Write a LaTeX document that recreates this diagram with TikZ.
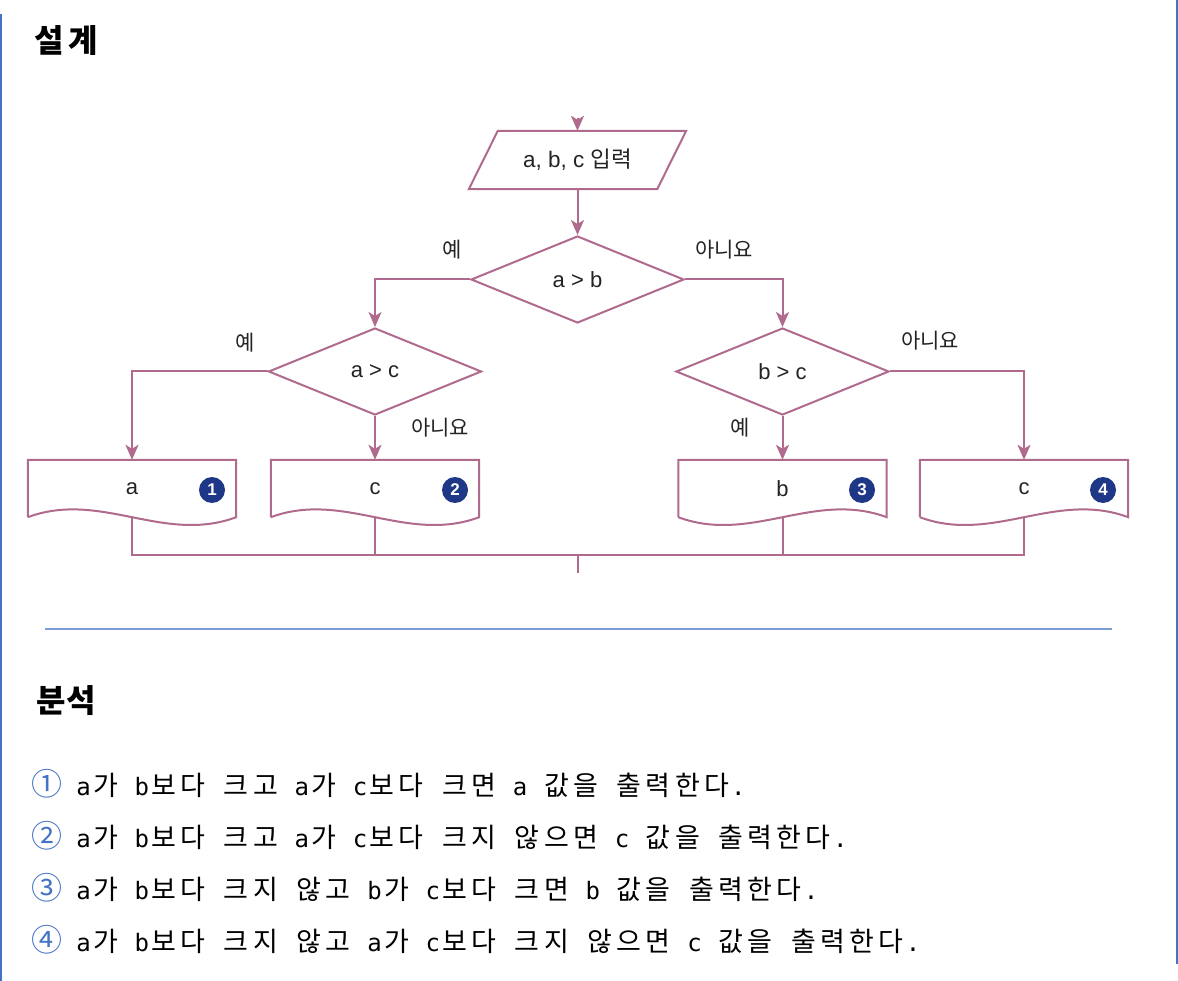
\documentclass[tikz,border=0pt]{standalone}
\usepackage{fontspec}
\usetikzlibrary{arrows.meta,shapes.geometric,calc}
\newfontfamily\kr{Noto Sans CJK KR}
\newfontfamily\lat{Liberation Sans}
\newfontfamily\latmono{DejaVu Sans Mono}
\definecolor{fl}{RGB}{176,106,142}
\definecolor{navy}{RGB}{30,55,135}
\definecolor{bord}{RGB}{68,114,196}
\definecolor{rulec}{RGB}{125,155,212}
\definecolor{txt}{RGB}{35,35,35}
\ExplSyntaxOn
\dim_new:N \g_cellw_dim
\dim_gset:Nn \g_cellw_dim {14.55pt}
\NewDocumentCommand \monoline { m }
  {
    \str_map_inline:nn {#1}
      {
        \str_if_eq:nnTF {##1} {~}
          { \hbox_to_wd:nn {\g_cellw_dim} {} }
          {
            \int_compare:nNnTF { `##1 } > { 255 }
              { \hbox_to_wd:nn {2\g_cellw_dim} { \hfil \kr\fontsize{27}{27}\selectfont ##1 \hfil } }
              { \hbox_to_wd:nn {\g_cellw_dim} { \hfil \latmono\fontsize{24}{24}\selectfont ##1 \hfil } }
          }
      }
  }
\ExplSyntaxOff
\newcommand\docshape[3]{%
  \draw[fline] (#1.south west) -- (#1.north west) -- (#1.north east) -- (#1.south east)
    .. controls ($(#1.south east)+(-72.8,#2)$) and ($(#1.south west)+(72.8,#3)$) .. (#1.south west);}
\newcommand\circnum[1]{{\color{bord}\makebox[29.1pt]{\kr\fontsize{31}{31}\selectfont #1}}}
\begin{document}
\begin{tikzpicture}[x=1pt,y=-1pt,
  fline/.style={draw=fl, line width=2pt},
  farrow/.style={fline, -{Stealth[length=15pt,width=13pt,inset=4pt]}},
  dec/.style={diamond, draw=fl, line width=2pt, minimum width=213pt, minimum height=87pt,
    inner sep=0pt, aspect=2.45, font=\lat\fontsize{22}{22}\selectfont, text=txt},
  lbl/.style={font=\kr\fontsize{21}{21}\selectfont, text=txt, inner sep=0pt},
  outbox/.style={minimum width=208pt, minimum height=57pt, inner sep=0pt,
    font=\lat\fontsize{22}{22}\selectfont, text=txt},
  num/.style={circle, fill=navy, text=white, minimum size=26pt, inner sep=0pt,
    font=\lat\bfseries\fontsize{17}{17}\selectfont},
  title/.style={font=\kr\bfseries\fontsize{32}{32}\selectfont, inner sep=0pt},
  rowtxt/.style={anchor=base west, inner sep=0pt, font=\kr\fontsize{26}{26}\selectfont}
]
\useasboundingbox (0,0) rectangle (1178,981);
\fill[white] (0,0) rectangle (1178,981);
% page borders
\draw[bord, line width=1.5pt] (1,14) -- (1,981);
\draw[bord, line width=1.5pt] (1177,0) -- (1177,964);
% titles
\node[title] (t1) at (66,41) {설\hspace{4pt}계};
\node[title] (t2) at (66,701) {분석};
\draw[rulec, line width=2pt] (45,629) -- (1112,629);

% flowchart
\coordinate (top) at (577.5,118);
\node[minimum width=188pt, minimum height=58pt, inner sep=0pt, text=txt] (inp) at (577.5,160)
  {{\lat\fontsize{22.5}{22.5}\selectfont a, b, c }{\kr\fontsize{22.5}{22.5}\selectfont 입력}};
\draw[fline] ([xshift=14.5pt]inp.north west) -- ([xshift=14.5pt]inp.north east)
  -- ([xshift=-14.5pt]inp.south east) -- ([xshift=-14.5pt]inp.south west) -- cycle;

\node[dec] (ab) at (577.5,279.5) {a > b};
\node[dec] (ac) at (375,371.5) {a > c};
\node[dec] (bc) at (782.5,371.5) {b > c};

\node[outbox] (oa) at (132,488.5) {a};
\node[outbox] (oc) at (375,488.5) {c};
\node[outbox] (ob) at (782.5,488.5) {b};
\node[outbox] (od) at (1024,488.5) {c};
\docshape{oa}{27}{-27}
\docshape{oc}{27}{-27}
\docshape{ob}{-27}{27}
\docshape{od}{-27}{27}

\node[num] (n1) at (212,490) {1};
\node[num] (n2) at (455,490) {2};
\node[num] (n3) at (862,490) {3};
\node[num] (n4) at (1103,490) {4};

\draw[farrow] (top) -- (inp.north);
\draw[farrow] (inp.south) -- (ab.north);
\draw[farrow] (ab.west) -| (ac.north);
\draw[farrow] (ab.east) -| (bc.north);
\draw[farrow] (ac.west) -| (oa.north);
\draw[farrow] (ac.south) -- (oc.north);
\draw[farrow] (bc.south) -- (ob.north);
\draw[farrow] (bc.east) -| (od.north);

\coordinate (j) at (577.5,555);
\coordinate (jend) at (577.5,573);
\draw[fline] (oa.south) -- (oa.south |- j) -- (od.south |- j) -- (od.south);
\draw[fline] (oc.south) -- (oc.south |- j);
\draw[fline] (ob.south) -- (ob.south |- j);
\draw[fline] (j) -- (jend);

\node[lbl] (y1) at (452,250) {예};
\node[lbl] (n1l) at (724,250) {아니요};
\node[lbl] (y2) at (245,343) {예};
\node[lbl] (n2l) at (440,428) {아니요};
\node[lbl] (y3) at (740,428) {예};
\node[lbl] (n3l) at (930,341) {아니요};

% analysis lines
\node[rowtxt] (r1) at (32.5,795) {\circnum{①}\monoline{ a가 b보다 크고 a가 c보다 크면 a 값을 출력한다.}};
\node[rowtxt] (r2) at (32.5,847) {\circnum{②}\monoline{ a가 b보다 크고 a가 c보다 크지 않으면 c 값을 출력한다.}};
\node[rowtxt] (r3) at (32.5,899) {\circnum{③}\monoline{ a가 b보다 크지 않고 b가 c보다 크면 b 값을 출력한다.}};
\node[rowtxt] (r4) at (32.5,951) {\circnum{④}\monoline{ a가 b보다 크지 않고 a가 c보다 크지 않으면 c 값을 출력한다.}};
\end{tikzpicture}
\end{document}
